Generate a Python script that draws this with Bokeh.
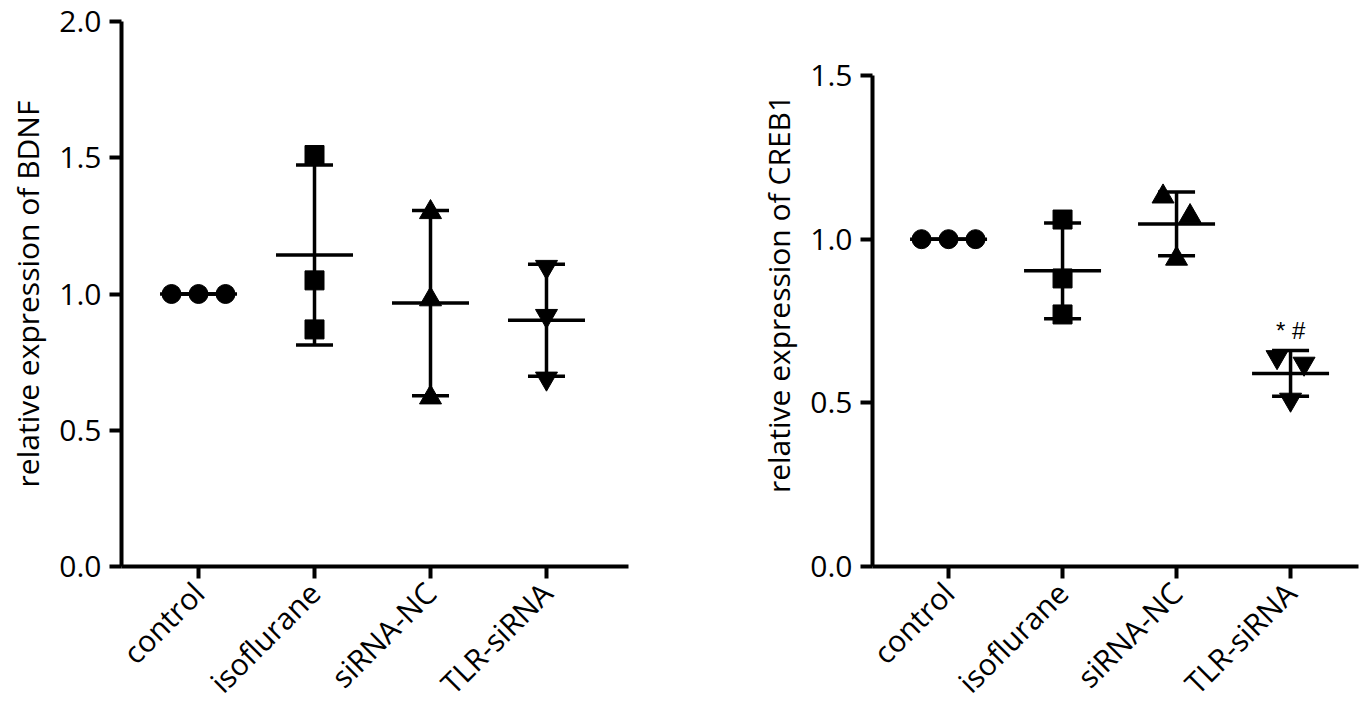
import numpy as np
from math import pi
from bokeh.plotting import figure
from bokeh.layouts import row
from bokeh.models import (ColumnDataSource, Whisker, TeeHead, FixedTicker,
                          PrintfTickFormatter, Label)
from bokeh.embed import file_html
from bokeh.resources import INLINE

# ---------------- data ----------------
categories = ["control", "isoflurane", "siRNA-NC", "TLR-siRNA"]

bdnf_control = [1.00, 1.00, 1.00]
bdnf_isoflurane = [1.51, 1.05, 0.87]
bdnf_sirna_nc = [1.30, 0.98, 0.62]
bdnf_tlr_sirna = [1.10, 0.92, 0.69]

creb1_control = [1.00, 1.00, 1.00]
creb1_isoflurane = [1.06, 0.88, 0.77]
creb1_sirna_nc = [1.13, 1.07, 0.94]
creb1_tlr_sirna = [0.64, 0.62, 0.51]

bdnf_ticks = [0.0, 0.5, 1.0, 1.5, 2.0]
creb1_ticks = [0.0, 0.5, 1.0, 1.5]

bdnf_label = "relative expression of BDNF"
creb1_label = "relative expression of CREB1"
creb1_annotation = "* #"   # significance marks over TLR-siRNA

# ---------------- style ----------------
FONT = "Open Sans"
MARKERS = ["circle", "square", "triangle", "inverted_triangle"]
MARKER_SIZES = [19, 19, 22, 22]
LW = 3.5
HEIGHT = 720
B_TOP, B_BOTTOM = 21, 154


def jitter(vals, px_per_y, px_per_x, thresh=22, spacing=27):
    """Spread points that would overlap vertically (column scatter)."""
    vals = np.asarray(vals, dtype=float)
    order = np.argsort(-vals, kind="stable")
    offsets = np.zeros(len(vals))
    clusters, cur = [], [order[0]]
    for a, b in zip(order[:-1], order[1:]):
        if abs(vals[a] - vals[b]) * px_per_y < thresh:
            cur.append(b)
        else:
            clusters.append(cur)
            cur = [b]
    clusters.append(cur)
    for c in clusters:
        n = len(c)
        for k, idx in enumerate(c):
            offsets[idx] = (k - (n - 1) / 2) * spacing / px_per_x
    return offsets


def make_panel(groups, ylabel, ticks, width, bl, br, x_start, x_end, y_end):
    y_max = ticks[-1]
    frame_w = width - bl - br
    frame_h = HEIGHT - B_TOP - B_BOTTOM
    px_x = frame_w / (x_end - x_start)
    px_y = frame_h / y_end

    p = figure(width=width, height=HEIGHT, x_range=(x_start, x_end), y_range=(0, y_end),
               output_backend="svg", toolbar_location=None,
               min_border_left=bl, min_border_right=br,
               min_border_top=B_TOP, min_border_bottom=B_BOTTOM)
    p.grid.visible = False
    p.outline_line_color = None
    p.background_fill_color = "white"
    p.border_fill_color = "white"

    xs, means, uppers, lowers = [], [], [], []
    for i, vals in enumerate(groups):
        xc = i + 1
        v = np.asarray(vals, dtype=float)
        m = v.mean()
        sd = v.std(ddof=1)
        off = jitter(v, px_y, px_x)
        p.scatter(xc + off, v, marker=MARKERS[i], size=MARKER_SIZES[i],
                  fill_color="black", line_color="black")
        xs.append(xc)
        means.append(m)
        uppers.append(m + sd)
        lowers.append(m - sd)

    src = ColumnDataSource(dict(x=xs, mean=means, upper=uppers, lower=lowers))
    p.dash("x", "mean", source=src, size=77, line_width=LW, line_color="black")
    wh = Whisker(base="x", upper="upper", lower="lower", source=src,
                 line_width=LW, line_color="black",
                 upper_head=TeeHead(size=37, line_width=LW, line_color="black"),
                 lower_head=TeeHead(size=37, line_width=LW, line_color="black"))
    p.add_layout(wh)

    p.xaxis.ticker = FixedTicker(ticks=[i + 1 for i in range(len(categories))])
    p.xaxis.major_label_overrides = {i + 1: c for i, c in enumerate(categories)}
    p.xaxis.major_label_orientation = pi / 4
    p.yaxis.ticker = FixedTicker(ticks=ticks)
    p.yaxis.formatter = PrintfTickFormatter(format="%.1f")
    p.yaxis.bounds = (0, y_max)

    for ax in (p.xaxis[0], p.yaxis[0]):
        ax.axis_line_width = 4
        ax.axis_line_color = "black"
        ax.major_tick_line_width = 4
        ax.major_tick_line_color = "black"
        ax.major_tick_out = 12
        ax.major_tick_in = 0
        ax.minor_tick_line_color = None
        ax.major_label_text_font = FONT
        ax.major_label_text_font_size = "30px"
        ax.major_label_text_color = "black"
    p.yaxis.major_label_standoff = 8
    p.xaxis.major_label_standoff = 9
    p.xaxis.major_label_text_font_size = "30px"

    p.yaxis.axis_label = ylabel
    p.yaxis.axis_label_text_font = FONT
    p.yaxis.axis_label_text_font_size = "30px"
    p.yaxis.axis_label_text_font_style = "normal"
    p.yaxis.axis_label_text_color = "black"
    p.yaxis.axis_label_standoff = 8
    return p, src


bdnf_groups = [bdnf_control, bdnf_isoflurane, bdnf_sirna_nc, bdnf_tlr_sirna]
creb1_groups = [creb1_control, creb1_isoflurane, creb1_sirna_nc, creb1_tlr_sirna]

left, _ = make_panel(bdnf_groups, bdnf_label, bdnf_ticks,
                     width=740, bl=121, br=112, x_start=0.336, x_end=4.707,
                     y_end=2.0)
right, rsrc = make_panel(creb1_groups, creb1_label, creb1_ticks,
                         width=626, bl=132, br=8, x_start=0.333, x_end=4.596,
                         y_end=1.665)

tlr = categories.index("TLR-siRNA")
ann = Label(x=tlr + 1, y=rsrc.data["upper"][tlr], y_offset=6, text=creb1_annotation,
            text_align="center", text_baseline="bottom",
            text_font="Liberation Sans", text_font_size="24px", text_color="black")
right.add_layout(ann)

layout = row(left, right)
open("out.html", "w").write(file_html(layout, INLINE))
